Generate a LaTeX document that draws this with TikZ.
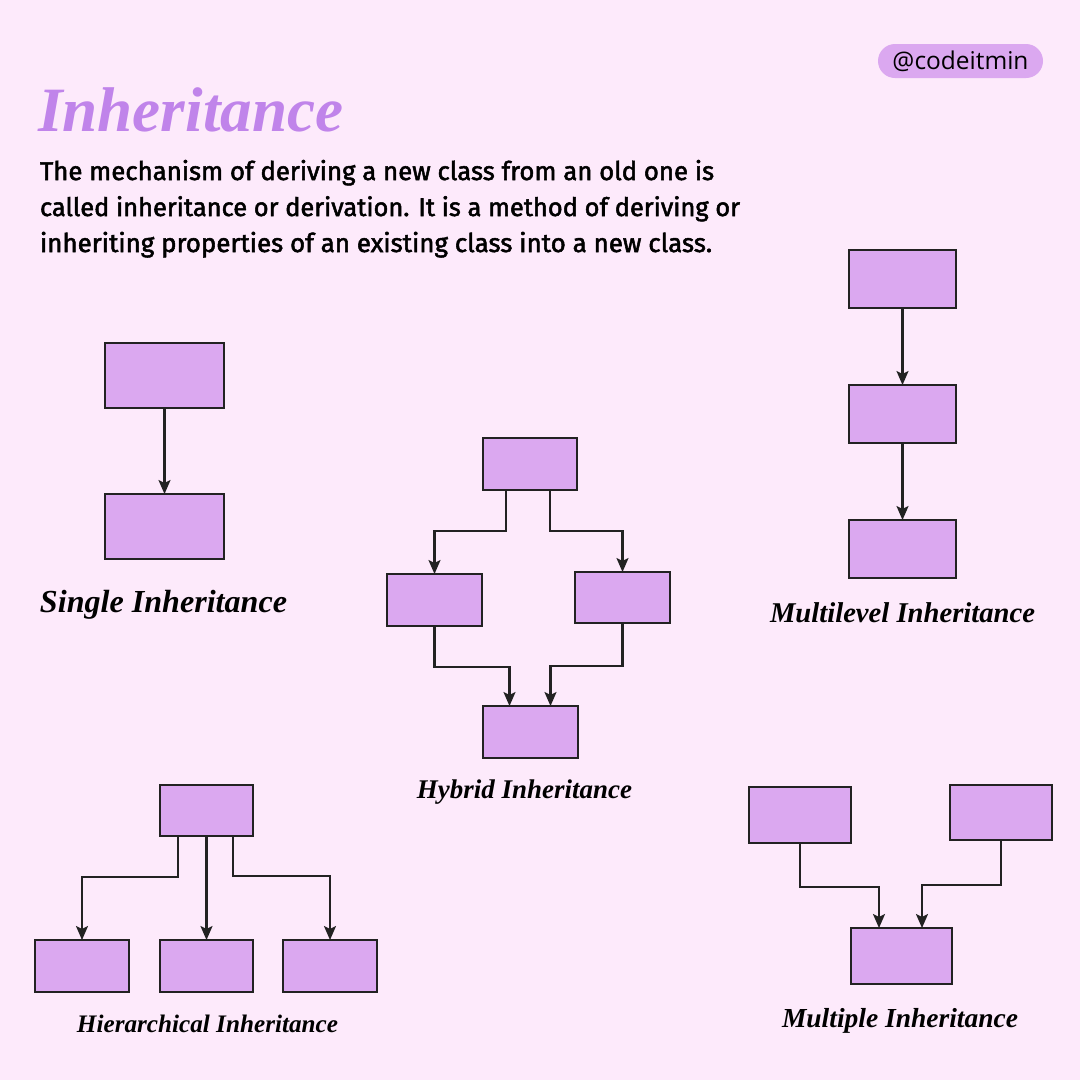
\documentclass[tikz,border=0pt]{standalone}
\usepackage{fontspec}
\setmainfont{Liberation Serif}
\newfontfamily\bodyfont[FakeBold=2]{Fira Sans}
\newfontfamily\tagfont{Open Sans}
\usetikzlibrary{arrows.meta}
\definecolor{bgpink}{HTML}{FDEAFB}
\definecolor{boxfill}{HTML}{DBA8F0}
\definecolor{titlepurple}{HTML}{C084EA}
\definecolor{edgecol}{HTML}{222222}
\begin{document}
\begin{tikzpicture}[x=1pt,y=-1pt,
  cls/.style={draw=edgecol,fill=boxfill,line width=2pt,inner sep=0pt,outer sep=0pt},
  arr/.style={draw=edgecol,line width=2.2pt,-{Stealth[length=14pt,width=12pt,inset=3pt]}},
  lbl/.style={inner sep=0pt,outer sep=0pt,anchor=base,font=\itshape\bfseries},
  bodyline/.style={inner sep=0pt,outer sep=0pt,anchor=base west}]
\fill[bgpink] (0,0) rectangle (1080,1080);
\useasboundingbox (0,0) rectangle (1080,1080);

% title and text
\node[inner sep=0pt,anchor=base west,text=titlepurple] (title) at (38,131)
  {\resizebox{305pt}{!}{\itshape\bfseries Inheritance}};
\node[bodyline] (body1) at (40,180) {\resizebox{674pt}{!}{\bodyfont The mechanism of deriving a new class from an old one is}};
\node[bodyline] (body2) at (40,216) {\resizebox{700pt}{!}{\bodyfont called inheritance or derivation. It is a method of deriving or}};
\node[bodyline] (body3) at (40,252) {\resizebox{672pt}{!}{\bodyfont inheriting properties of an existing class into a new class.}};

% handle badge
\node[fill=boxfill,rounded corners=17pt,minimum width=165pt,minimum height=34pt,inner sep=0pt] (tag) at (960.5,61)
  {\resizebox{136pt}{!}{\tagfont @codeitmin}};

% Single inheritance
\node[cls,minimum width=119pt,minimum height=65pt] (s1) at (164.5,375.5) {};
\node[cls,minimum width=119pt,minimum height=65pt] (s2) at (164.5,526.5) {};
\draw[arr] (s1.south) -- (s2.north);
\node[lbl] (slabel) at (163.5,612) {\resizebox{247pt}{!}{Single Inheritance}};

% Multilevel inheritance
\node[cls,minimum width=107pt,minimum height=58pt] (m1) at (902.5,279) {};
\node[cls,minimum width=107pt,minimum height=58pt] (m2) at (902.5,414) {};
\node[cls,minimum width=107pt,minimum height=58pt] (m3) at (902.5,549) {};
\draw[arr] (m1.south) -- (m2.north);
\draw[arr] (m2.south) -- (m3.north);
\node[lbl] (mlabel) at (902.5,622) {\resizebox{265pt}{!}{Multilevel Inheritance}};

% Hybrid inheritance
\node[cls,minimum width=94pt,minimum height=52pt] (h1) at (530,464) {};
\node[cls,minimum width=95pt,minimum height=52pt] (h2) at (434.5,600) {};
\node[cls,minimum width=95pt,minimum height=51pt] (h3) at (622.5,597.5) {};
\node[cls,minimum width=95pt,minimum height=52pt] (h4) at (530.5,732) {};
\draw[arr] ([xshift=-24pt]h1.south) -- ++(0,41) -| (h2.north);
\draw[arr] ([xshift=20pt]h1.south) -- ++(0,41) -| (h3.north);
\draw[arr] (h2.south) -- ++(0,41) -| ([xshift=-21pt]h4.north);
\draw[arr] (h3.south) -- ++(0,43) -| ([xshift=20pt]h4.north);
\node[lbl] (hlabel) at (524.5,798) {\resizebox{215pt}{!}{Hybrid Inheritance}};

% Hierarchical inheritance
\node[cls,minimum width=93pt,minimum height=51pt] (r1) at (206.5,810.5) {};
\node[cls,minimum width=94pt,minimum height=52pt] (r2) at (82,966) {};
\node[cls,minimum width=93pt,minimum height=52pt] (r3) at (206.5,966) {};
\node[cls,minimum width=94pt,minimum height=52pt] (r4) at (330,966) {};
\draw[arr] ([xshift=-28.5pt]r1.south) -- ++(0,41) -| (r2.north);
\draw[arr] (r1.south) -- (r3.north);
\draw[arr] ([xshift=26.5pt]r1.south) -- ++(0,40) -| (r4.north);
\node[lbl] (rlabel) at (207.5,1032) {\resizebox{261pt}{!}{Hierarchical Inheritance}};

% Multiple inheritance
\node[cls,minimum width=102pt,minimum height=56pt] (p1) at (800,815) {};
\node[cls,minimum width=102pt,minimum height=55pt] (p2) at (1001,812.5) {};
\node[cls,minimum width=101pt,minimum height=56pt] (p3) at (901.5,956) {};
\draw[arr] (p1.south) -- ++(0,44) -| ([xshift=-22.5pt]p3.north);
\draw[arr] (p2.south) -- ++(0,45) -| ([xshift=20.5pt]p3.north);
\node[lbl] (plabel) at (900,1027) {\resizebox{236pt}{!}{Multiple Inheritance}};
\end{tikzpicture}
\end{document}
